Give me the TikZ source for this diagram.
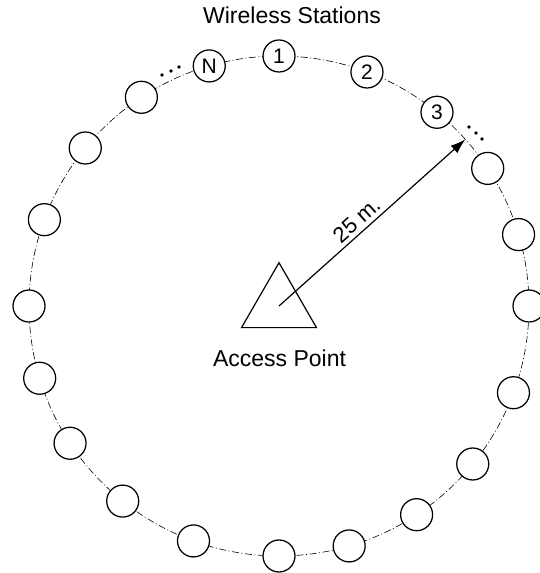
\documentclass[tikz,border=0pt]{standalone}
\usepackage{fontspec}
\setmainfont{Liberation Sans}
\usetikzlibrary{shapes.geometric,arrows.meta,calc}
\begin{document}
\begin{tikzpicture}[x=1pt,y=1pt,
  station/.style={circle,draw,line width=1.25pt,fill=white,minimum size=32pt,inner sep=0pt,font=\fontsize{21}{21}\selectfont},
  orbit/.style={line width=0.6pt,dash pattern=on 7pt off 2.5pt on 1pt off 2.5pt},
  lbl/.style={font=\fontsize{23}{27}\selectfont,inner sep=0pt},
  apshape/.style={regular polygon,regular polygon sides=3,draw,line width=1.2pt,minimum size=86.6pt,inner sep=0pt,outer sep=0pt},
  dotmark/.style={circle,fill,inner sep=0pt,minimum size=3.6pt}]
\useasboundingbox (0,0) rectangle (539,573);
\coordinate (c) at (279,267);
\draw[orbit] (c) circle[radius=250];
\node[apshape] (ap) at (c) {};
\foreach \a/\t/\n in {90/1/s1, 69.4/2/s2, 50.8/3/s3, 33.4//s4, 16.6//s5, 0//s6, -20.3//s7, -39.2//s8, -56.6//s9, -73.7//s10, -90//s11, -110//s12, -128.7//s13, -146.7//s14, -163.2//s15, 180//s16, 159.8//s17, 140.8//s18, 123.4//s19, 106.2/N/sN}
  \node[station] (\n) at ($(c)+(\a:250)$) {\t};
\node[dotmark] (dn1) at (162,498) {};
\node[dotmark] (dn2) at (171,502) {};
\node[dotmark] (dn3) at (179,506) {};
\node[dotmark] (d31) at (469,446) {};
\node[dotmark] (d32) at (476,440) {};
\node[dotmark] (d33) at (482,434) {};
\coordinate (tip) at ($(c)+(41.8:250)$);
\draw[line width=1.2pt,-{Latex[length=15pt,width=10pt]}] (ap.center) -- (tip)
  node[pos=0.46,sloped,above=2pt,font=\fontsize{22}{26}\selectfont,inner sep=2pt] (dist) {25 m.};
\node[lbl,anchor=base] (title) at (292,549) {Wireless Stations};
\node[lbl,anchor=base] (aplbl) at (279.5,206) {Access Point};
\end{tikzpicture}
\end{document}
